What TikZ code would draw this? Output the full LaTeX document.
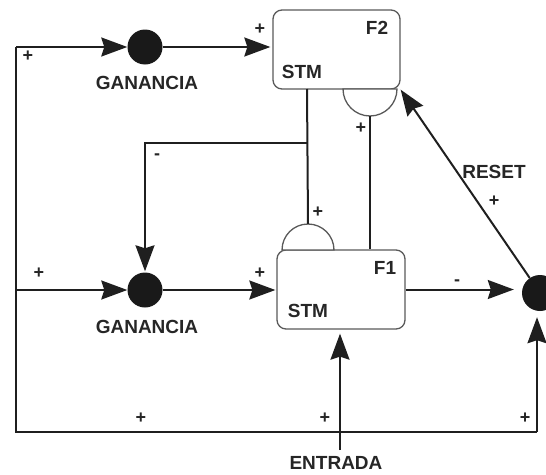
\documentclass[tikz,border=0pt]{standalone}
\usepackage{fontspec}
\setmainfont{Liberation Sans}
\usetikzlibrary{arrows.meta}
\begin{document}
\begin{tikzpicture}[x=1pt,y=-1pt,
  lbl/.style={font=\fontsize{19}{19}\selectfont\bfseries, text=black!85, inner sep=0pt},
  sgn/.style={font=\fontsize{18}{18}\selectfont\bfseries, text=black!85, inner sep=0pt},
  stmbox/.style={draw=black!65, line width=1.3pt, rounded corners=9pt, minimum width=127pt, minimum height=79pt, inner sep=0pt},
  gain/.style={circle, fill=black!90, minimum size=35pt, inner sep=0pt},
  wire/.style={line width=2pt, draw=black!88},
  arr/.style={wire, -{Stealth[length=26pt,width=19pt,inset=3pt]}},
  gate/.style={draw=black!65, line width=1.3pt, fill=white}
]
\useasboundingbox (0,0) rectangle (546,474);

% boxes and gains
\node[stmbox] (f2) at (336.5,49.5) {};
\node[stmbox, minimum width=128pt] (f1) at (341,289.5) {};
\node[gain] (g1) at (145,47) {};
\node[gain] (g2) at (145,290) {};
\node[gain, minimum size=36pt] (g3) at (540,293) {};

% gates (semicircles)
\draw[gate] (343,89) arc[start angle=180, end angle=360, radius=27pt] -- cycle;
\draw[gate] (282,250) arc[start angle=180, end angle=0, radius=26pt] -- cycle;
\coordinate (gatipA) at (370,116);
\coordinate (gatipB) at (308,224);

% coordinates
\coordinate (tl) at (16,47);
\coordinate (ml) at (16,290);
\coordinate (bl) at (16,432);
\coordinate (br) at (537,432);
\coordinate (f2out) at (307,89);
\coordinate (jn) at (307,143);
\coordinate (ein) at (340,450);

% wires
\draw[wire] (tl) -- (bl) -- (br);
\draw[arr] (tl) -- (g1);
\draw[arr] (ml) -- (g2);
\draw[arr, shorten >=6pt] (br) -- (br |- g3.south);
\draw[arr, shorten >=2pt] (g1) -- (g1 -| f2.west);
\draw[arr, shorten >=1pt] (g2) -- (g2 -| f1.west);
\draw[arr, shorten >=8pt] (f1.east) -- (f1.east -| g3.west);
\draw[arr] (g3) -- (f2.south east);
\draw[arr, shorten >=4pt] (ein) -- (ein |- f1.south);
\draw[wire] (f2out) -- (gatipB);
\draw[arr, shorten >=1pt] (jn) -| (g2.north);
\draw[wire] (gatipA) -- (gatipA |- f1.north);

% labels
\node[lbl] (ganA) at (147,83) {GANANCIA};
\node[lbl] (ganB) at (147,327) {GANANCIA};
\node[lbl] (entrada) at (336,463) {ENTRADA};
\node[lbl] (reset) at (494,172) {RESET};
\node[lbl] (lf2) at (377,28) {F2};
\node[lbl] (lstm2) at (302,72) {STM};
\node[lbl] (lf1) at (385,268) {F1};
\node[lbl] (lstm1) at (308,311) {STM};

% signs
\node[sgn] (s1) at (28,56) {+};
\node[sgn] (s2) at (260,29) {+};
\node[sgn] (s3) at (361,128) {+};
\node[sgn] (s4) at (318,212) {+};
\node[sgn] (s5) at (494,201) {+};
\node[sgn] (s6) at (157,157) {-};
\node[sgn] (s7) at (39,273) {+};
\node[sgn] (s8) at (260,273) {+};
\node[sgn] (s9) at (457,283) {-};
\node[sgn] (s10) at (141,418) {+};
\node[sgn] (s11) at (325,418) {+};
\node[sgn] (s12) at (525,418) {+};
\end{tikzpicture}
\end{document}
